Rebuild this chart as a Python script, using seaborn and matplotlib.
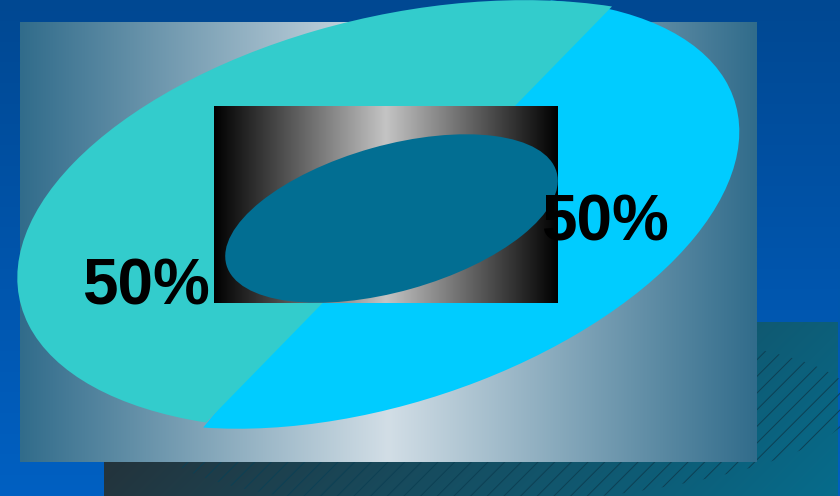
import numpy as np
import matplotlib
matplotlib.use("Agg")
import matplotlib.pyplot as plt
from matplotlib.transforms import Affine2D
from matplotlib.patches import Ellipse
import seaborn as sns

# ---------------- data ----------------
categories = ["Series A", "Series B"]
values = [50, 50]
slice_colors = ["#33CCCC", "#00CCFF"]

# ---------------- style ----------------
sns.set_theme(style="white")
plt.rcParams["font.family"] = ["Liberation Sans", "DejaVu Sans"]
plt.rcParams["hatch.linewidth"] = 0.7

W, H = 840, 496
fig = plt.figure(figsize=(W / 100, H / 100), dpi=100)
ax = fig.add_axes([0, 0, 1, 1])
ax.set_axis_off()


def lerp(c0, c1, t):
    c0 = np.array(c0, float) / 255.0
    c1 = np.array(c1, float) / 255.0
    t = np.clip(t, 0, 1)[..., None]
    return c0 + (c1 - c0) * t


# figure background: vertical blue gradient
ty = np.linspace(0, 1, 400)[:, None]
bg = lerp((0, 72, 146), (0, 96, 194), ty)
ax.imshow(bg, extent=(0, W, H, 0), aspect="auto", zorder=0, interpolation="bilinear")

# shadow block (diagonal gradient)
sx0, sx1, sy0, sy1 = 104, 838, 322, 496
xs = np.linspace(sx0, sx1, 300)
ys = np.linspace(sy0, sy1, 120)
X, Y = np.meshgrid(xs, ys)
t = ((X - sx0) + (Y - sy0)) / ((sx1 - sx0) + (sy1 - sy0))
sh = lerp((41, 41, 45), (6, 108, 140), t)
ax.imshow(sh, extent=(sx0, sx1, sy1, sy0), aspect="auto", zorder=1, interpolation="bilinear")

# hatched shadow of the pie
shadow = Ellipse((505, 420), 700, 168, angle=-3, facecolor="none",
                 edgecolor=(0.05, 0.25, 0.33), linewidth=0, hatch="//", zorder=2)
ax.add_patch(shadow)

# plot area: horizontal gradient, dark edges / light centre
px0, px1, py0, py1 = 20, 757, 22, 462
tx = 1 - np.abs(np.linspace(-1, 1, 600))[None, :]
pa = lerp((49, 108, 139), (210, 222, 230), tx)
ax.imshow(pa, extent=(px0, px1, py1, py0), aspect="auto", zorder=3, interpolation="bilinear")

# ---------------- pie ----------------
wedges, texts, autotexts = ax.pie(
    values, labels=None, colors=slice_colors, startangle=0, counterclock=True,
    autopct="%d%%", radius=1, center=(0, 0), frame=True,
    wedgeprops=dict(linewidth=0),
    textprops=dict(fontsize=46, fontweight="bold", color="black"),
)

# tilted projection of each slice (unit circle -> screen pixels)
slice_frames = [
    np.array([[203.0, -335.0, 409.0], [-208.0, -52.0, 214.5], [0, 0, 1]]),
    np.array([[173.8, -317.9, 377.0], [-213.5, -22.9, 214.0], [0, 0, 1]]),
]
label_anchor = [(-0.5486, 0.4541), (-0.0438, -0.7406)]
slice_z = [6, 5]
for w, at, m, la, z in zip(wedges, autotexts, slice_frames, label_anchor, slice_z):
    tr = Affine2D(m) + ax.transData
    w.set_transform(tr)
    w.set_zorder(z)
    at.set_transform(tr)
    at.set_position(la)
    at.set_ha("center")
    at.set_va("baseline")
    at.set_zorder(10)

# centre plate: grey metallic gradient
cx0, cx1, cy0, cy1 = 214, 558, 106, 303
tx2 = 1 - np.abs(np.linspace(-1, 1, 400))[None, :]
plate = lerp((0, 0, 0), (196, 196, 196), tx2)
ax.imshow(plate, extent=(cx0, cx1, cy1, cy0), aspect="auto", zorder=7, interpolation="bilinear")

# inner hole
hole = Ellipse((391.5, 218.5), 343, 146, angle=-15.7, facecolor="#026E92",
               edgecolor="none", zorder=8)
ax.add_patch(hole)

ax.set_aspect("auto")
ax.set_xlim(0, W)
ax.set_ylim(H, 0)

fig.savefig("out.png", dpi=100)
